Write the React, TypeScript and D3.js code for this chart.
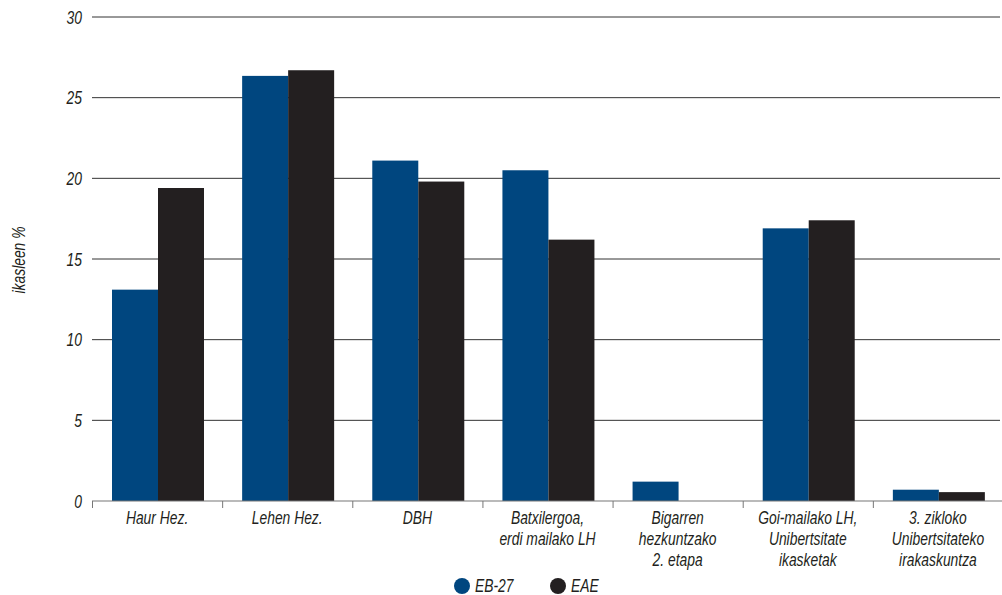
import React from "react";
import * as d3 from "d3";

const categories: string[][] = [
  ["Haur Hez."],
  ["Lehen Hez."],
  ["DBH"],
  ["Batxilergoa,", "erdi mailako LH"],
  ["Bigarren", "hezkuntzako", "2. etapa"],
  ["Goi-mailako LH,", "Unibertsitate", "ikasketak"],
  ["3. zikloko", "Unibertsitateko", "irakaskuntza"],
];
const seriesNames = ["EB-27", "EAE"];
const eb27 = [13.1, 26.35, 21.1, 20.5, 1.2, 16.9, 0.7];
const eae = [19.4, 26.7, 19.8, 16.2, 0, 17.4, 0.55];
const yTicks = [0, 5, 10, 15, 20, 25, 30];
const colors = ["#00467f", "#231f20"];

const W = 1002, H = 595;
const left = 92, right = 1003, top = 17, bottom = 501;
const FONT = "'Liberation Sans', Arial, sans-serif";
const FS = 18;
const SX = 0.77;

function T({ x, y, anchor = "start", children, rotate = 0 }: { x: number; y: number; anchor?: string; children: React.ReactNode; rotate?: number }) {
  return (
    <text
      transform={`translate(${x},${y}) rotate(${rotate}) scale(${SX},1)`}
      textAnchor={anchor}
      fontSize={FS}
      fontStyle="italic"
      fill="#231f20"
    >
      {children}
    </text>
  );
}

export default function App() {
  const x = d3.scaleBand<number>().domain(d3.range(categories.length)).range([left, right]).padding(0);
  const y = d3.scaleLinear().domain([0, 30]).range([bottom, top]);
  const bw = 46;
  const off = 20;
  const series = [eb27, eae];
  return (
    <svg width={W} height={H} style={{ position: "absolute", left: 0, top: 0, background: "#fff" }} fontFamily={FONT}>
      {yTicks.map((t) => (
        <g key={t}>
          {t > 0 && <line x1={left} x2={1000} y1={y(t)} y2={y(t)} stroke="#333" strokeWidth={1} />}
          <T x={82} y={y(t) + 6.5} anchor="end">{t}</T>
        </g>
      ))}
      {series.map((vals, si) =>
        vals.map((v, i) => (
          <rect key={`${si}-${i}`} x={(x(i) as number) + off + si * bw} y={y(v)} width={bw} height={bottom - y(v)} fill={colors[si]} />
        ))
      )}
      <line x1={left} x2={1002} y1={bottom} y2={bottom} stroke="#777" strokeWidth={1.2} />
      {d3.range(categories.length).map((i) => (
        <line key={i} x1={(x(i) as number) + 0.5} x2={(x(i) as number) + 0.5} y1={bottom} y2={bottom + 7} stroke="#777" strokeWidth={1} />
      ))}
      {categories.map((lines, i) => (
        <g key={i}>
          {lines.map((l, j) => (
            <T key={j} x={(x(i) as number) + x.bandwidth() / 2} y={524 + j * 21} anchor="middle">{l}</T>
          ))}
        </g>
      ))}
      <T x={25} y={260} anchor="middle" rotate={-90}>ikasleen %</T>
      {seriesNames.map((s, i) => (
        <g key={s} transform={`translate(${462 + i * 96},586)`}>
          <circle cx={0} cy={0} r={8} fill={colors[i]} />
          <T x={13} y={6}>{s}</T>
        </g>
      ))}
    </svg>
  );
}
